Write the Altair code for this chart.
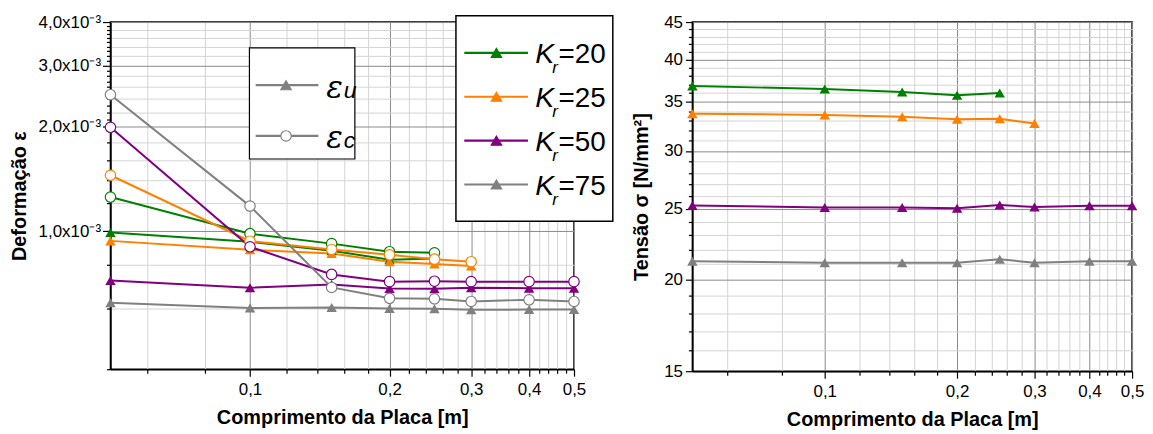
import altair as alt
import pandas as pd

# ---------------- data ----------------
comprimento = [0.05, 0.1, 0.15, 0.2, 0.25, 0.3, 0.4, 0.5]
kr_valores = ['20', '25', '50', '75']
cores = ['#008000', '#FF8000', '#800080', '#808080']

# Deformação (x10^-3)
eu_kr20 = [0.990, 0.931, 0.878, 0.827, 0.834]
ec_kr20 = [1.253, 0.983, 0.920, 0.872, 0.866]
eu_kr25 = [0.937, 0.883, 0.862, 0.816, 0.804, 0.793]
ec_kr25 = [1.448, 0.935, 0.885, 0.854, 0.830, 0.816]
eu_kr50 = [0.720, 0.687, 0.702, 0.683, 0.682, 0.687, 0.684, 0.684]
ec_kr50 = [1.990, 0.901, 0.750, 0.715, 0.717, 0.715, 0.715, 0.715]
eu_kr75 = [0.622, 0.600, 0.602, 0.598, 0.597, 0.593, 0.594, 0.594]
ec_kr75 = [2.470, 1.180, 0.688, 0.640, 0.638, 0.627, 0.634, 0.627]

# Tensão sigma [N/mm²]
sig_kr20 = [36.8, 36.45, 36.1, 35.75, 36.0]
sig_kr25 = [33.73, 33.6, 33.4, 33.15, 33.2, 32.7]
sig_kr50 = [25.27, 25.1, 25.1, 25.05, 25.3, 25.15, 25.25, 25.25]
sig_kr75 = [21.2, 21.1, 21.1, 21.1, 21.33, 21.1, 21.2, 21.2]

# tick / grid values
x_ticks = [0.06, 0.08, 0.1, 0.12, 0.14, 0.16, 0.18, 0.2, 0.22, 0.24, 0.26, 0.28,
           0.3, 0.32, 0.34, 0.36, 0.38, 0.4, 0.42, 0.44, 0.46, 0.48, 0.5]
def_ticks = [0.0004, 0.0006, 0.0008, 0.001, 0.0012, 0.0014, 0.0016, 0.0018, 0.002,
             0.0021, 0.0022, 0.0023, 0.0024, 0.0025, 0.0026, 0.0027, 0.0028, 0.0029, 0.003,
             0.0031, 0.0032, 0.0033, 0.0034, 0.0035, 0.0036, 0.0037, 0.0038, 0.0039, 0.004]
sig_ticks = [15, 16, 17, 18, 19, 20, 21, 22, 23, 24, 25, 26, 27, 28, 29, 30,
             31, 32, 33, 34, 35, 36, 37, 38, 39, 40, 41, 42, 43, 44, 45]

# ---------------- tables ----------------
def_rows = []
for kr, eu, ec in [('20', eu_kr20, ec_kr20), ('25', eu_kr25, ec_kr25),
                   ('50', eu_kr50, ec_kr50), ('75', eu_kr75, ec_kr75)]:
    for i, v in enumerate(eu):
        def_rows.append({'Kr': kr, 'tipo': 'u', 'serie': kr + 'u', 'x': comprimento[i], 'v': v * 1e-3})
    for i, v in enumerate(ec):
        def_rows.append({'Kr': kr, 'tipo': 'c', 'serie': kr + 'c', 'x': comprimento[i], 'v': v * 1e-3})
df_def = pd.DataFrame(def_rows)

sig_rows = []
for kr, sg in [('20', sig_kr20), ('25', sig_kr25), ('50', sig_kr50), ('75', sig_kr75)]:
    for i, v in enumerate(sg):
        sig_rows.append({'Kr': kr, 'x': comprimento[i], 'v': v})
df_sig = pd.DataFrame(sig_rows)

one = pd.DataFrame({'a': [0]})

FONT = 'Liberation Sans'
GRID_MAJOR = '#8a8a8a'
GRID_MINOR = '#d4d4d4'
LABEL_SIZE = 17
TITLE_SIZE = 20

color_scale = alt.Scale(domain=kr_valores, range=cores)

x_major = "indexof([10,20,30,40,50], round(datum.value*100)) >= 0"
x_axis = alt.Axis(
    values=x_ticks,
    title='Comprimento da Placa [m]',
    labelExpr="indexof([10,20,30,40,50], round(datum.value*100)) >= 0 ? replace(format(datum.value, '.1f'), '.', ',') : ''",
    gridColor={'condition': {'test': x_major, 'value': GRID_MAJOR}, 'value': GRID_MINOR},
    tickSize={'condition': {'test': x_major, 'value': 7}, 'value': 4},
    labelPadding=5, titlePadding=11, labelFlush=False,
)

y_major_def = "indexof([10,20,30,40], round(datum.value*10000)) >= 0"
y_axis_def = alt.Axis(
    values=def_ticks,
    title='Deformação ε',
    labelExpr="indexof([10,20,30,40], round(datum.value*10000)) >= 0 ? replace(format(datum.value*1000, '.1f'), '.', ',') + 'x10⁻³' : ''",
    gridColor={'condition': {'test': y_major_def, 'value': GRID_MAJOR}, 'value': GRID_MINOR},
    gridOpacity={'condition': {'test': "round(datum.value*10000) % 2 == 1", 'value': 0}, 'value': 1},
    tickSize={'condition': {'test': y_major_def, 'value': 8}, 'value': 4},
    labelPadding=2, titlePadding=9, labelFlush=False,
)

y_major_sig = "datum.value % 5 == 0"
y_axis_sig = alt.Axis(
    values=sig_ticks,
    title='Tensão σ [N/mm²]',
    labelExpr="datum.value % 5 == 0 ? format(datum.value, 'd') : ''",
    gridColor={'condition': {'test': y_major_sig, 'value': GRID_MAJOR}, 'value': GRID_MINOR},
    tickSize={'condition': {'test': y_major_sig, 'value': 7}, 'value': 4},
    labelPadding=3, titlePadding=12, labelFlush=False,
)

xenc = alt.X('x:Q', scale=alt.Scale(type='log', domain=[0.05, 0.5], nice=False), axis=x_axis)
yenc_def = alt.Y('v:Q', scale=alt.Scale(type='log', domain=[0.0004, 0.004], nice=False), axis=y_axis_def)
yenc_sig = alt.Y('v:Q', scale=alt.Scale(type='log', domain=[15, 45], nice=False), axis=y_axis_sig)

# ---------------- left panel ----------------
base_def = alt.Chart(df_def)
lines_def = base_def.mark_line(strokeWidth=2).encode(
    x=xenc, y=yenc_def,
    color=alt.Color('Kr:N', scale=color_scale, legend=None),
    detail='serie:N', order='x:Q')
tri_def = base_def.transform_filter("datum.tipo == 'u'").mark_point(
    shape='triangle-up', filled=True, size=110, opacity=1).encode(
    x=xenc, y=yenc_def, color=alt.Color('Kr:N', scale=color_scale, legend=None))
circ_def = base_def.transform_filter("datum.tipo == 'c'").mark_point(
    shape='circle', filled=True, size=110, opacity=1, strokeWidth=1.2).encode(
    x=xenc, y=yenc_def, fill=alt.value('white'),
    stroke=alt.Stroke('Kr:N', scale=color_scale, legend=None))


def box(x1, x2, y1, y2, sw=1.2):
    return alt.Chart(one).mark_rect(fill='white', stroke='black', strokeWidth=sw).encode(
        x=alt.value(x1), x2=alt.value(x2), y=alt.value(y1), y2=alt.value(y2))


def seg(x1, x2, y, col):
    return alt.Chart(one).mark_rule(color=col, strokeWidth=2.2).encode(
        x=alt.value(x1), x2=alt.value(x2), y=alt.value(y))


def sym(x, y, shape, col, fill):
    return alt.Chart(one).mark_point(shape=shape, filled=True, size=110, opacity=1,
                                     fill=fill, stroke=col, strokeWidth=1.2).encode(
        x=alt.value(x), y=alt.value(y))


def txt(t, x, y, size, font=FONT, style='normal', weight='normal'):
    return alt.Chart(one).mark_text(text=t, align='left', baseline='alphabetic', font=font,
                                    fontSize=size, fontStyle=style, fontWeight=weight,
                                    color='black').encode(x=alt.value(x), y=alt.value(y))


leg = [box(139.7, 245.7, 26, 137.7)]
# epsilon legend
for yy, sub, shape, fill in [(63.5, 'u', 'triangle-up', '#808080'), (114.5, 'c', 'circle', 'white')]:
    leg.append(seg(146, 209, yy, '#808080'))
    leg.append(sym(176.5, yy, shape, '#808080', fill))
    leg.append(txt('ε', 217, yy + 12.5, 31, font='DejaVu Serif', style='italic'))
    leg.append(txt(sub, 234.5, yy + 12.5, 23, style='italic'))

leg.append(box(347.3, 505, -6.3, 200.3, 1.5))
for i, kr in enumerate(kr_valores):
    yy = 31 + i * 44.1
    leg.append(seg(355.7, 419.7, yy, cores[i]))
    leg.append(sym(388, yy, 'triangle-up', cores[i], cores[i]))
    leg.append(txt('K', 427, yy + 10.5, 28.5, style='italic'))
    leg.append(txt('r', 444, yy + 20.5, 17, style='italic'))
    leg.append(txt('=' + kr, 450.5, yy + 10.5, 28))

left = alt.layer(lines_def, tri_def, circ_def, *leg).properties(width=466, height=349)

# ---------------- right panel ----------------
base_sig = alt.Chart(df_sig)
lines_sig = base_sig.mark_line(strokeWidth=2).encode(
    x=xenc, y=yenc_sig, color=alt.Color('Kr:N', scale=color_scale, legend=None), order='x:Q')
tri_sig = base_sig.mark_point(shape='triangle-up', filled=True, size=110, opacity=1).encode(
    x=xenc, y=yenc_sig, color=alt.Color('Kr:N', scale=color_scale, legend=None))
right = alt.layer(lines_sig, tri_sig).properties(width=442, height=351)

chart = alt.hconcat(left, right, spacing=16).properties(
    padding={'left': 0, 'top': 3, 'right': 0, 'bottom': 0}
).configure_view(stroke='black', strokeWidth=1.5).configure_axis(
    labelFont=FONT, labelFontSize=LABEL_SIZE, labelColor='black',
    titleFont=FONT, titleFontSize=TITLE_SIZE, titleFontWeight='bold', titleColor='black',
    tickColor='black', domainColor='black', domainWidth=1.5, tickWidth=1.2,
    gridWidth=1,
).configure_concat(spacing=16)

chart.save('out.html', embed_options={'renderer': 'svg', 'actions': False})
